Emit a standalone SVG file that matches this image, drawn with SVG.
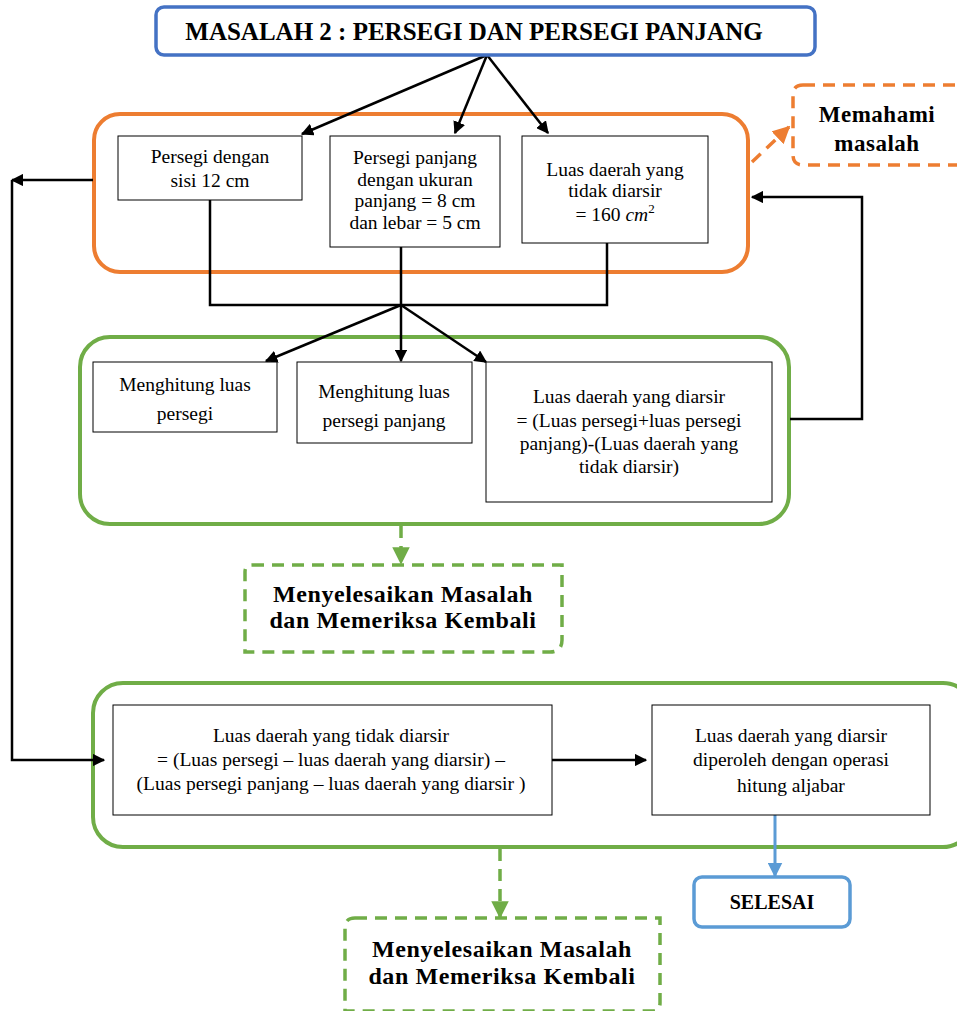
<svg xmlns="http://www.w3.org/2000/svg" width="957" height="1011" viewBox="0 0 957 1011">
<defs>
<style>
.t{font-family:"Liberation Serif","Times New Roman",serif;font-size:19.5px;fill:#000;text-anchor:middle}
.b{font-family:"Liberation Serif","Times New Roman",serif;font-weight:bold;fill:#000;text-anchor:middle}
.box{fill:#fff;stroke:#000;stroke-width:1}
.ln{fill:none;stroke:#000;stroke-width:2.5}
.gd{fill:none;stroke:#70AD47;stroke-width:3.5;stroke-dasharray:12 8}
.od{fill:none;stroke:#ED7D31;stroke-width:3.5;stroke-dasharray:12 8}
</style>
<marker id="ak" viewBox="0 0 10 10" refX="9" refY="5" markerWidth="5" markerHeight="5" orient="auto"><path d="M0,0 L10,5 L0,10 z" fill="#000"/></marker>
<marker id="ag" viewBox="0 0 10 10" refX="9" refY="5" markerWidth="5" markerHeight="5" orient="auto"><path d="M0,0 L10,5 L0,10 z" fill="#70AD47"/></marker>
<marker id="ao" viewBox="0 0 10 10" refX="9" refY="5" markerWidth="5" markerHeight="5" orient="auto"><path d="M0,0 L10,5 L0,10 z" fill="#ED7D31"/></marker>
<marker id="ab" viewBox="0 0 10 10" refX="9" refY="5" markerWidth="5" markerHeight="5" orient="auto"><path d="M0,0 L10,5 L0,10 z" fill="#5B9BD5"/></marker>
</defs>
<rect width="957" height="1011" fill="#fff"/>

<g id="containers">
<rect x="94" y="114" width="654" height="158" rx="26" fill="none" stroke="#ED7D31" stroke-width="4"/>
<rect x="80" y="337" width="709" height="187" rx="30" fill="none" stroke="#70AD47" stroke-width="4"/>
<rect x="93" y="683" width="880" height="164" rx="30" fill="none" stroke="#70AD47" stroke-width="4"/>
</g>

<g id="connectors">
<line class="ln" x1="487" y1="55" x2="302" y2="134" marker-end="url(#ak)"/>
<line class="ln" x1="487" y1="55" x2="455" y2="133" marker-end="url(#ak)"/>
<line class="ln" x1="487" y1="55" x2="548" y2="133" marker-end="url(#ak)"/>
<path class="ln" d="M210,200 V305 H607 V243 M401,247 V305"/>
<line class="ln" x1="401" y1="305" x2="266" y2="361" marker-end="url(#ak)"/>
<line class="ln" x1="401" y1="305" x2="401" y2="361" marker-end="url(#ak)"/>
<line class="ln" x1="401" y1="305" x2="486" y2="362" marker-end="url(#ak)"/>
<path class="ln" d="M790,419 H862 V197 H752" marker-end="url(#ak)"/>
<line class="ln" x1="93" y1="180" x2="12" y2="180" marker-end="url(#ak)"/>
<path class="ln" d="M12,180 V760 H104" marker-end="url(#ak)"/>
<line class="ln" x1="552" y1="760" x2="646" y2="760" marker-end="url(#ak)"/>
<line x1="752" y1="162" x2="789" y2="127" stroke="#ED7D31" stroke-width="3.5" stroke-dasharray="12 8" marker-end="url(#ao)"/>
<line x1="401" y1="526" x2="401" y2="563" stroke="#70AD47" stroke-width="3.5" stroke-dasharray="12 8" marker-end="url(#ag)"/>
<line x1="500" y1="849" x2="500" y2="917" stroke="#70AD47" stroke-width="3.5" stroke-dasharray="12 8" marker-end="url(#ag)"/>
<line x1="775" y1="815" x2="775" y2="876" stroke="#5B9BD5" stroke-width="3" marker-end="url(#ab)"/>
</g>

<g id="title">
<rect x="156" y="7" width="659" height="48" rx="8" fill="#fff" stroke="#4472C4" stroke-width="3.5"/>
<text class="b" x="474" y="40" font-size="25">MASALAH 2 : PERSEGI DAN PERSEGI PANJANG</text>
</g>

<g id="memahami">
<path class="od" d="M803,85 H960 M960,165 H803 Q793,165 793,155 V95 Q793,85 803,85"/>
<text class="b" x="877" y="122" font-size="23" letter-spacing="0.5">Memahami</text>
<text class="b" x="877" y="151" font-size="23" letter-spacing="0.5">masalah</text>
</g>

<g id="persegi">
<rect class="box" x="118" y="136" width="184" height="64"/>
<text class="t" x="210" y="163">Persegi dengan</text>
<text class="t" x="210" y="187">sisi 12 cm</text>
</g>

<g id="persegipanjang">
<rect class="box" x="330" y="136" width="170" height="111"/>
<text class="t" x="415" y="164">Persegi panjang</text>
<text class="t" x="415" y="186">dengan ukuran</text>
<text class="t" x="415" y="207">panjang = 8 cm</text>
<text class="t" x="415" y="229">dan lebar = 5 cm</text>
</g>

<g id="luastidak">
<rect class="box" x="522" y="136" width="186" height="107"/>
<text class="t" x="615" y="176">Luas daerah yang</text>
<text class="t" x="615" y="197">tidak diarsir</text>
<text class="t" x="615" y="221">= 160 <tspan font-style="italic">cm</tspan><tspan font-size="13" dy="-8">2</tspan></text>
</g>

<g id="hitungpersegi">
<rect class="box" x="93" y="362" width="184" height="70"/>
<text class="t" x="185" y="391">Menghitung luas</text>
<text class="t" x="185" y="420">persegi</text>
</g>

<g id="hitungpp">
<rect class="box" x="297" y="362" width="175" height="81"/>
<text class="t" x="384" y="398">Menghitung luas</text>
<text class="t" x="384" y="427">persegi panjang</text>
</g>

<g id="luasdiarsir">
<rect class="box" x="486" y="362" width="286" height="140"/>
<text class="t" x="629" y="403">Luas daerah yang diarsir</text>
<text class="t" x="629" y="427">= (Luas persegi+luas persegi</text>
<text class="t" x="629" y="450">panjang)-(Luas daerah yang</text>
<text class="t" x="629" y="473">tidak diarsir)</text>
</g>

<g id="menyelesaikan1">
<path class="gd" d="M252,565 H562 V640 Q562,652 550,652 H245 V572 Q245,565 252,565"/>
<text class="b" x="403" y="602" font-size="24" letter-spacing="0.6">Menyelesaikan Masalah</text>
<text class="b" x="403" y="628" font-size="24" letter-spacing="0.6">dan Memeriksa Kembali</text>
</g>

<g id="luastidak2">
<rect class="box" x="113" y="705" width="439" height="110"/>
<text class="t" x="331" y="742">Luas daerah yang tidak diarsir</text>
<text class="t" x="331" y="766">= (Luas persegi – luas daerah yang diarsir) –</text>
<text class="t" x="331" y="790">(Luas persegi panjang – luas daerah yang diarsir )</text>
</g>

<g id="aljabar">
<rect class="box" x="652" y="705" width="278" height="110"/>
<text class="t" x="791" y="742">Luas daerah yang diarsir</text>
<text class="t" x="791" y="766">diperoleh dengan operasi</text>
<text class="t" x="791" y="792">hitung aljabar</text>
</g>

<g id="selesai">
<rect x="694" y="877" width="156" height="50" rx="8" fill="#fff" stroke="#5B9BD5" stroke-width="3.5"/>
<text class="b" x="772" y="909" font-size="20">SELESAI</text>
</g>

<g id="menyelesaikan2">
<path class="gd" d="M355,918 H660 V1003 Q660,1011 652,1011 H345 V928 Q345,918 355,918"/>
<text class="b" x="502" y="957" font-size="24" letter-spacing="0.6">Menyelesaikan Masalah</text>
<text class="b" x="502" y="984" font-size="24" letter-spacing="0.6">dan Memeriksa Kembali</text>
</g>
</svg>
